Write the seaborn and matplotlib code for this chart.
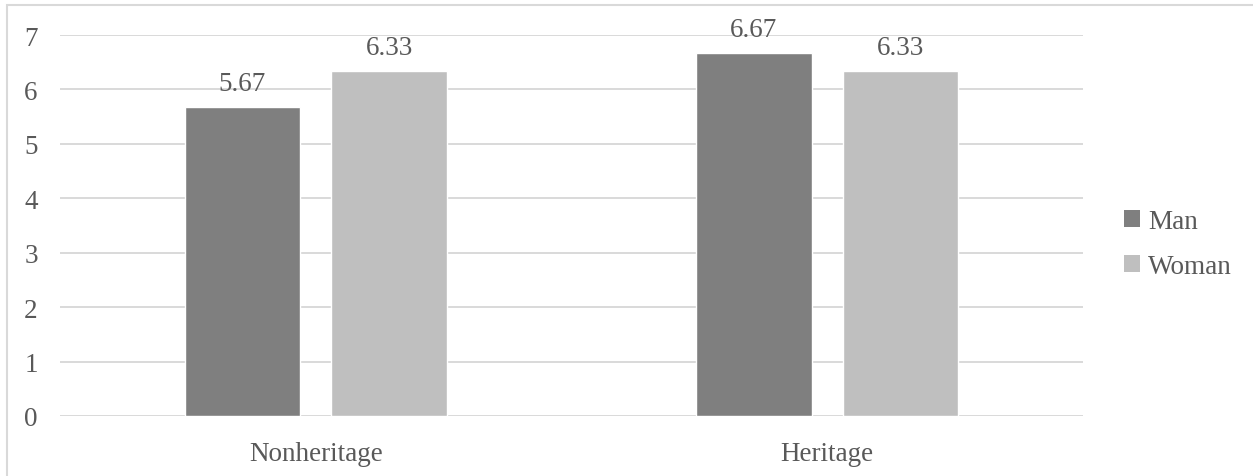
import matplotlib
matplotlib.use("Agg")
import matplotlib.pyplot as plt
from matplotlib.patches import Rectangle
import seaborn as sns
import pandas as pd

groups = ["Nonheritage", "Heritage"]
genders = ["Man", "Woman"]
man_scores = [5.67, 6.67]
woman_scores = [6.33, 6.33]
y_ticks = [0, 1, 2, 3, 4, 5, 6, 7]

palette = {"Man": "#7f7f7f", "Woman": "#bfbfbf"}
text_color = "#595959"
grid_color = "#d9d9d9"
fs = 19.5

df = pd.DataFrame({
    "group": groups * 2,
    "gender": ["Man"] * len(groups) + ["Woman"] * len(groups),
    "score": man_scores + woman_scores,
})

sns.set_theme(style="white")
plt.rcParams["font.family"] = ["Liberation Serif", "DejaVu Serif"]

W, H = 1253, 477
fig = plt.figure(figsize=(W / 100, H / 100), dpi=100)
ax = fig.add_axes([60 / W, 1 - 417 / H, (1083 - 60) / W, (417 - 36) / H])

sns.barplot(data=df, x="group", y="score", hue="gender", order=groups,
            hue_order=genders, palette=palette, width=0.573, gap=0.214,
            saturation=1, errorbar=None, ax=ax, legend=False)

ax.set_xlim(-0.5, 1.5)
ax.set_ylim(0, 7)
ax.set_yticks(y_ticks)
ax.set_yticklabels([str(t) for t in y_ticks])
ax.yaxis.grid(True, color=grid_color, linewidth=1.4)
ax.set_axisbelow(True)
for s in ax.spines.values():
    s.set_visible(False)
ax.set_xlabel("")
ax.set_ylabel("")
ax.tick_params(axis="y", length=0, pad=16, labelsize=fs, labelcolor=text_color)
ax.tick_params(axis="x", length=0, pad=18, labelsize=fs, labelcolor=text_color)

for cont in ax.containers:
    ax.bar_label(cont, labels=[f"{v:.2f}" for v in cont.datavalues],
                 padding=8, fontsize=fs, color=text_color)

# legend on the right
handles = [Rectangle((0, 0), 1, 1, facecolor=palette[g], edgecolor="none") for g in genders]
fig.legend(handles, genders, loc="center left", bbox_to_anchor=(1110 / W, 1 - 245 / H),
           frameon=False, fontsize=fs, labelcolor=text_color, handlelength=0.6,
           handleheight=0.6, handletextpad=0.3, labelspacing=0.72, borderpad=0)

# chart frame
fig.patches.append(Rectangle((7 / W, -0.1), 1.2, 1 - 6 / H + 0.1, transform=fig.transFigure,
                             fill=False, edgecolor=grid_color, linewidth=1.5))

fig.savefig("out.png", dpi=100)
